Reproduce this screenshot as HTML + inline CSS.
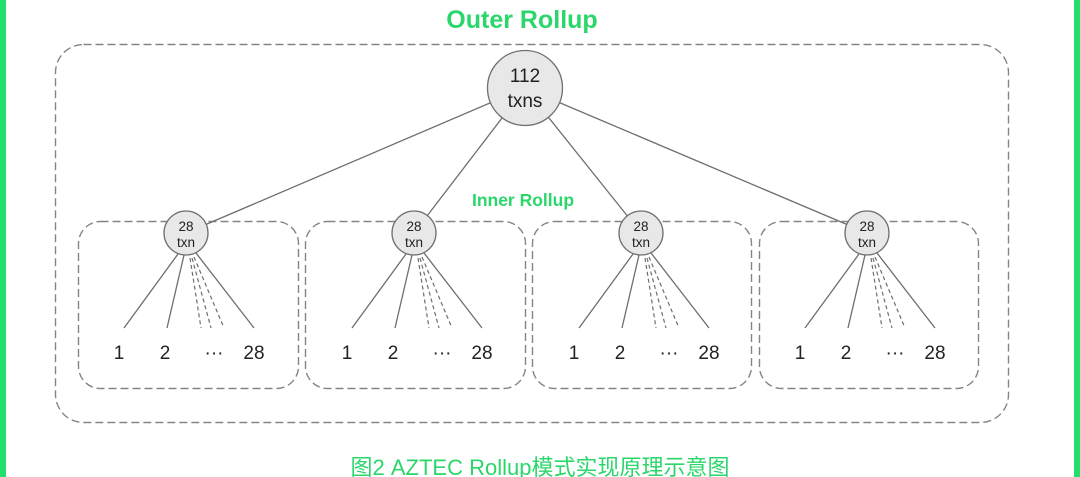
<!DOCTYPE html>
<html>
<head>
<meta charset="utf-8">
<style>
html,body{margin:0;padding:0;background:#fff;}
body{width:1080px;height:477px;overflow:hidden;position:relative;}
svg{position:absolute;left:0;top:0;}
</style>
</head>
<body>
<svg width="1080" height="477" viewBox="0 0 1080 477" xmlns="http://www.w3.org/2000/svg">
  <rect x="0" y="0" width="1080" height="477" fill="#fff"/>
  <rect x="0" y="0" width="6" height="477" fill="#22df6e"/>
  <rect x="1074" y="0" width="6" height="477" fill="#22df6e"/>

  <text x="522" y="28" text-anchor="middle" font-family="Liberation Sans, sans-serif" font-weight="bold" font-size="25" fill="#2bd66b">Outer Rollup</text>

  <!-- outer dashed box -->
  <rect x="55.5" y="44.5" width="953" height="378" rx="28" ry="28" fill="none" stroke="#858585" stroke-width="1.4" stroke-dasharray="8 4"/>

  <!-- inner boxes -->
  <g fill="none" stroke="#858585" stroke-width="1.4" stroke-dasharray="8 4">
    <rect x="78.5" y="221.5" width="220" height="167" rx="22" ry="22"/>
    <rect x="305.5" y="221.5" width="220" height="167" rx="22" ry="22"/>
    <rect x="532.5" y="221.5" width="219" height="167" rx="22" ry="22"/>
    <rect x="759.5" y="221.5" width="219" height="167" rx="22" ry="22"/>
  </g>

  <text x="523" y="206" text-anchor="middle" font-family="Liberation Sans, sans-serif" font-weight="bold" font-size="17.5" fill="#2bd66b">Inner Rollup</text>

  <!-- top connectors -->
  <g stroke="#6e6e6e" stroke-width="1.3">
    <line x1="525" y1="88" x2="186" y2="233"/>
    <line x1="525" y1="88" x2="414" y2="233"/>
    <line x1="525" y1="88" x2="641" y2="233"/>
    <line x1="525" y1="88" x2="867" y2="233"/>
  </g>

  <!-- top circle -->
  <circle cx="525" cy="88" r="37.5" fill="#e8e8e8" stroke="#707070" stroke-width="1.3"/>
  <text x="525" y="82" text-anchor="middle" font-family="Liberation Sans, sans-serif" font-size="19" fill="#222">112</text>
  <text x="525" y="107" text-anchor="middle" font-family="Liberation Sans, sans-serif" font-size="19" fill="#222">txns</text>

  <!-- subtree template -->
  <defs>
    <g id="sub">
      <g stroke="#6e6e6e" stroke-width="1.3">
        <line x1="-8" y1="254" x2="-62" y2="328"/>
        <line x1="-2" y1="255" x2="-19" y2="328"/>
        <line x1="10" y1="253" x2="68" y2="328"/>
      </g>
      <g stroke="#6e6e6e" stroke-width="1.2" stroke-dasharray="4 3">
        <line x1="4" y1="258" x2="15" y2="328"/>
        <line x1="6" y1="258" x2="25" y2="328"/>
        <line x1="8" y1="257" x2="38" y2="328"/>
      </g>
      <circle cx="0" cy="233" r="22" fill="#e8e8e8" stroke="#707070" stroke-width="1.3"/>
    </g>
  </defs>

  <g font-family="Liberation Sans, sans-serif" fill="#222" text-anchor="middle">
    <use href="#sub" x="186"/>
    <text x="186" y="231" font-size="13.5">28</text>
    <text x="186" y="247" font-size="13.5">txn</text>
    <text x="119" y="359" font-size="19">1</text>
    <text x="165" y="359" font-size="19">2</text>
    <text x="214" y="359" font-size="19">···</text>
    <text x="254" y="359" font-size="19">28</text>

    <use href="#sub" x="414"/>
    <text x="414" y="231" font-size="13.5">28</text>
    <text x="414" y="247" font-size="13.5">txn</text>
    <text x="347" y="359" font-size="19">1</text>
    <text x="393" y="359" font-size="19">2</text>
    <text x="442" y="359" font-size="19">···</text>
    <text x="482" y="359" font-size="19">28</text>

    <use href="#sub" x="641"/>
    <text x="641" y="231" font-size="13.5">28</text>
    <text x="641" y="247" font-size="13.5">txn</text>
    <text x="574" y="359" font-size="19">1</text>
    <text x="620" y="359" font-size="19">2</text>
    <text x="669" y="359" font-size="19">···</text>
    <text x="709" y="359" font-size="19">28</text>

    <use href="#sub" x="867"/>
    <text x="867" y="231" font-size="13.5">28</text>
    <text x="867" y="247" font-size="13.5">txn</text>
    <text x="800" y="359" font-size="19">1</text>
    <text x="846" y="359" font-size="19">2</text>
    <text x="895" y="359" font-size="19">···</text>
    <text x="935" y="359" font-size="19">28</text>
  </g>

  <text x="540" y="475" text-anchor="middle" font-family="Liberation Sans, Noto Sans CJK SC, sans-serif" font-size="22" fill="#2bd66b">图2 AZTEC Rollup模式实现原理示意图</text>
</svg>
</body>
</html>
